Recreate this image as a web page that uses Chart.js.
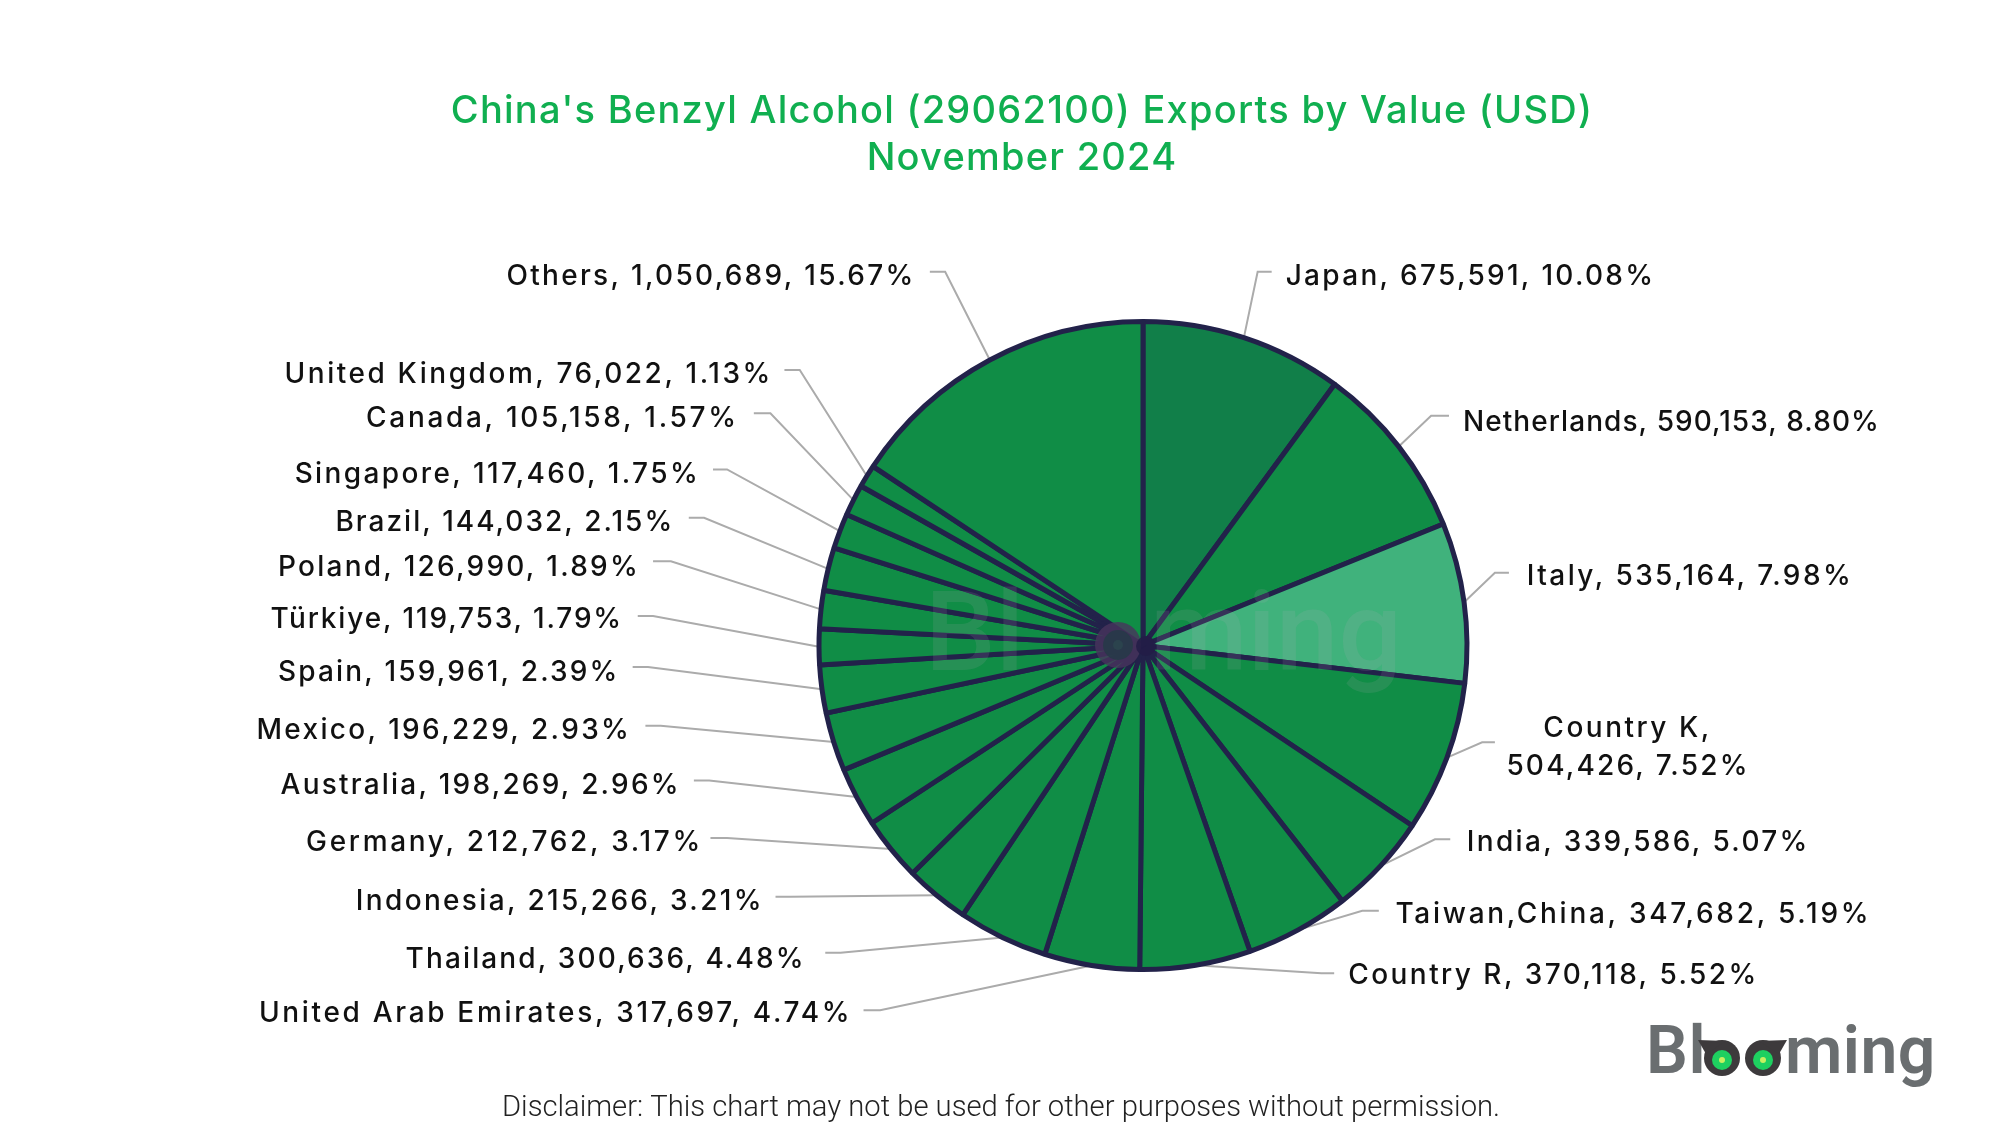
<!DOCTYPE html>
<html>
<head>
<meta charset="utf-8">
<style>
  html, body { margin: 0; padding: 0; background: #fff; }
  #wrap { width: 2000px; height: 1125px; }
</style>
<script src="https://cdn.jsdelivr.net/npm/chart.js@4"></script>
</head>
<body>
<div id="wrap"><canvas id="pie" width="2000" height="1125"></canvas></div>
<script>
const categories = ['Japan', 'Netherlands', 'Italy', 'Country K', 'India', 'Taiwan,China', 'Country R',
  'United Arab Emirates', 'Thailand', 'Indonesia', 'Germany', 'Australia', 'Mexico', 'Spain', 'Türkiye',
  'Poland', 'Brazil', 'Singapore', 'Canada', 'United Kingdom', 'Others'];
const exportValues = [675591, 590153, 535164, 504426, 339586, 347682, 370118,
  317697, 300636, 215266, 212762, 198269, 196229, 159961, 119753,
  126990, 144032, 117460, 105158, 76022, 1050689];
const sharePercents = ['10.08', '8.80', '7.98', '7.52', '5.07', '5.19', '5.52',
  '4.74', '4.48', '3.21', '3.17', '2.96', '2.93', '2.39', '1.79',
  '1.89', '2.15', '1.75', '1.57', '1.13', '15.67'];
const titleLines = ["China's Benzyl Alcohol (29062100) Exports by Value (USD)", 'November 2024'];
const disclaimer = 'Disclaimer: This chart may not be used for other purposes without permission.';

// label spots, measured on the reference at 1568 wide, S scales them up
// x is the text start, w the text width on the reference
const S = 2000 / 1568;
const labelSpots = [
  { x: 1008, w: 288, y: 215, stubY: 213, stub: [997, 986] },
  { x: 1147, w: 326, y: 329, stubY: 326, stub: [1136, 1122] },
  { x: 1197, w: 254, y: 450, stubY: 449, stub: [1183, 1172] },
  { x: 1210, w: 130, y: 569, stubY: 582, stub: [1172, 1162], second: { x: 1181, w: 189, y: 599 } },
  { x: 1150, w: 267, y: 659, stubY: 658, stub: [1137, 1125] },
  { x: 1094, w: 371, y: 715, stubY: 714, stub: [1081, 1068] },
  { x: 1057, w: 320, y: 763, stubY: 763, stub: [1046, 1036] },
  { x: 203, w: 463, y: 793, stubY: 792, stub: [677, 690] },
  { x: 318, w: 312, y: 750, stubY: 747, stub: [647, 659] },
  { x: 279, w: 318, y: 705, stubY: 703, stub: [608, 620] },
  { x: 240, w: 309, y: 659, stubY: 657, stub: [557, 570] },
  { x: 220, w: 312, y: 614, stubY: 612, stub: [544, 556] },
  { x: 201, w: 292, y: 571, stubY: 569, stub: [506, 518] },
  { x: 218, w: 266, y: 525, stubY: 523, stub: [496, 508] },
  { x: 212, w: 275, y: 484, stubY: 483, stub: [500, 512] },
  { x: 218, w: 282, y: 443, stubY: 440, stub: [512, 526] },
  { x: 263, w: 264, y: 408, stubY: 406, stub: [540, 552] },
  { x: 231, w: 316, y: 370, stubY: 368, stub: [559, 570] },
  { x: 287, w: 290, y: 326, stubY: 324, stub: [591, 604] },
  { x: 223, w: 381, y: 292, stubY: 290, stub: [615, 627] },
  { x: 397, w: 319, y: 215, stubY: 213, stub: [729, 741] }
];

const sliceColors = categories.map(c => c === 'Japan' ? '#117F49' : c === 'Italy' ? '#40B27C' : '#108D46');
const LABEL_FONT = '500 28px Inter';
const LABEL_DY = 2.5;

function sliceText(i) {
  return categories[i] + ', ' + exportValues[i].toLocaleString('en-US') + ', ' + sharePercents[i] + '%';
}

function spaced(ctx, font, spacing) {
  ctx.font = font;
  ctx.letterSpacing = spacing;
}

function circle(ctx, x, y, r, color) {
  ctx.fillStyle = color;
  ctx.beginPath();
  ctx.arc(x, y, r, 0, Math.PI * 2);
  ctx.fill();
}

// draws text from x, spread so it takes the width it has on the reference
function fitText(ctx, text, x, y, w) {
  ctx.letterSpacing = '0px';
  const natural = ctx.measureText(text).width;
  ctx.letterSpacing = ((w * S - natural) / (text.length - 1)) + 'px';
  ctx.fillText(text, x * S, y * S + LABEL_DY);
}

const connectors = {
  id: 'connectors',
  beforeDatasetsDraw(chart) {
    const ctx = chart.ctx;
    const arcs = chart.getDatasetMeta(0).data;
    ctx.save();
    ctx.strokeStyle = '#ABABAB';
    ctx.lineWidth = 2;
    arcs.forEach((arc, i) => {
      const p = arc.getProps(['x', 'y', 'startAngle', 'endAngle', 'outerRadius'], true);
      const mid = (p.startAngle + p.endAngle) / 2;
      const spot = labelSpots[i];
      ctx.beginPath();
      ctx.moveTo(spot.stub[0] * S, spot.stubY * S);
      ctx.lineTo(spot.stub[1] * S, spot.stubY * S);
      ctx.lineTo(p.x + Math.cos(mid) * p.outerRadius, p.y + Math.sin(mid) * p.outerRadius);
      ctx.stroke();
    });
    ctx.restore();
  },
  afterDraw(chart) {
    const ctx = chart.ctx;
    ctx.save();
    ctx.textBaseline = 'middle';

    // title
    ctx.fillStyle = '#10AF50';
    ctx.textAlign = 'center';
    spaced(ctx, '500 38px Inter', '1.25px');
    ctx.fillText(titleLines[0], 1022, 112);
    ctx.fillText(titleLines[1], 1022, 159);

    // slice labels
    ctx.fillStyle = '#111';
    ctx.textAlign = 'left';
    ctx.font = LABEL_FONT;
    labelSpots.forEach((spot, i) => {
      if (spot.second) {
        fitText(ctx, categories[i] + ',', spot.x, spot.y, spot.w);
        fitText(ctx, exportValues[i].toLocaleString('en-US') + ', ' + sharePercents[i] + '%', spot.second.x, spot.second.y, spot.second.w);
      } else {
        fitText(ctx, sliceText(i), spot.x, spot.y, spot.w);
      }
    });

    // disclaimer
    ctx.fillStyle = '#222';
    ctx.textAlign = 'center';
    spaced(ctx, '300 29.2px Roboto', '0px');
    ctx.fillText(disclaimer, 1001, 1109);

    // logo, bottom right
    ctx.fillStyle = '#6A6E70';
    ctx.textAlign = 'left';
    ctx.textBaseline = 'alphabetic';
    spaced(ctx, '600 66px Roboto', '0.5px');
    ctx.fillText('Bl', 1646, 1073);
    ctx.fillText('ming', 1785, 1073);
    [[1722, -1], [1763, 1]].forEach(([ex, side]) => {
      circle(ctx, ex, 1058, 18, '#3D3A3C');
      ctx.beginPath();
      ctx.moveTo(ex + side * 24, 1040);
      ctx.lineTo(ex - side * 4, 1041);
      ctx.lineTo(ex + side * 16, 1054);
      ctx.fill();
      circle(ctx, ex, 1060, 10, '#1ED060');
      circle(ctx, ex, 1060, 3, '#C8F060');
    });
    ctx.restore();
  },
  afterDatasetsDraw(chart) {
    // faint watermark across the pie, eyes of the owl sit just left of the centre
    const ctx = chart.ctx;
    ctx.save();
    ctx.fillStyle = 'rgba(190,170,190,0.13)';
    ctx.textBaseline = 'alphabetic';
    ctx.textAlign = 'left';
    spaced(ctx, '500 112px Roboto', '0px');
    ctx.fillText('Bl', 925, 670);
    ctx.fillText('ming', 1150, 670);
    circle(ctx, 1118, 645, 23, 'rgba(72,52,92,0.8)');
    circle(ctx, 1118, 645, 15, 'rgba(38,58,72,0.85)');
    circle(ctx, 1118, 645, 5, 'rgba(45,75,80,0.6)');
    circle(ctx, 1146, 646, 10, 'rgba(34,28,70,0.85)');
    ctx.restore();
  }
};

new Chart(document.getElementById('pie'), {
  type: 'pie',
  data: {
    labels: categories,
    datasets: [{
      data: exportValues,
      backgroundColor: sliceColors,
      borderColor: '#22224A',
      borderWidth: 5,
      hoverOffset: 0
    }]
  },
  options: {
    responsive: false,
    animation: false,
    devicePixelRatio: 1,
    layout: { padding: { left: 286, right: 0, top: 319, bottom: 153 } },
    plugins: { legend: { display: false }, tooltip: { enabled: false }, title: { display: false } }
  },
  plugins: [connectors]
});
</script>
</body>
</html>
